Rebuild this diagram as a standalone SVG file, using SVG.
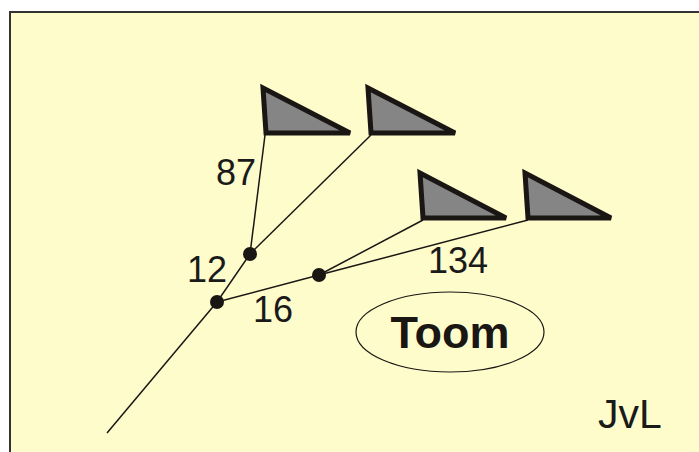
<svg xmlns="http://www.w3.org/2000/svg" width="699" height="452" viewBox="0 0 699 452">
<style>
.lbl{font-family:"Liberation Sans",Arial,sans-serif;font-size:36px;fill:#1a1a1a}
.tri{fill:#858585;stroke:#1a1614;stroke-width:5;stroke-linejoin:miter}
.ln{stroke:#1a1614;stroke-width:1.5;fill:none}
.dot{fill:#1a1614}
</style>
<rect x="10" y="12" width="700" height="450" fill="#FFFCCC" stroke="#333" stroke-width="2"/>
<g id="connectors">
<line class="ln" x1="107" y1="433" x2="217" y2="302"/>
<line class="ln" x1="217" y1="302" x2="250" y2="254"/>
<line class="ln" x1="217" y1="302" x2="319" y2="275"/>
<line class="ln" x1="250" y1="254" x2="265" y2="135"/>
<line class="ln" x1="250" y1="254" x2="371" y2="135"/>
<line class="ln" x1="319" y1="275" x2="423" y2="220"/>
<line class="ln" x1="319" y1="275" x2="528" y2="220"/>
</g>
<g id="t1"><polygon class="tri" points="263,88 266,133 350,133"/></g>
<g id="t2"><polygon class="tri" points="368,88 371,133 455,133"/></g>
<g id="t3"><polygon class="tri" points="420,173 423,218 506,218"/></g>
<g id="t4"><polygon class="tri" points="525,173 528,218 611,218"/></g>
<g id="n1"><circle class="dot" cx="217" cy="302" r="7"/></g>
<g id="n2"><circle class="dot" cx="250" cy="254" r="7"/></g>
<g id="n3"><circle class="dot" cx="319" cy="275" r="7"/></g>
<g id="l87"><text class="lbl" x="216" y="185">87</text></g>
<g id="l12"><text class="lbl" x="187" y="282">12</text></g>
<g id="l16"><text class="lbl" x="253" y="322">16</text></g>
<g id="l134"><text class="lbl" x="428" y="273">134</text></g>
<g id="toom">
<ellipse cx="450" cy="332" rx="94" ry="40" fill="none" stroke="#1a1614" stroke-width="1.2"/>
<text x="450" y="348" text-anchor="middle" font-family="Liberation Sans,Arial,sans-serif" font-weight="bold" font-size="45" fill="#1a1614">Toom</text>
</g>
<g id="jvl"><text class="lbl" x="598" y="428" font-size="41" style="font-size:41px">JvL</text></g>
</svg>
